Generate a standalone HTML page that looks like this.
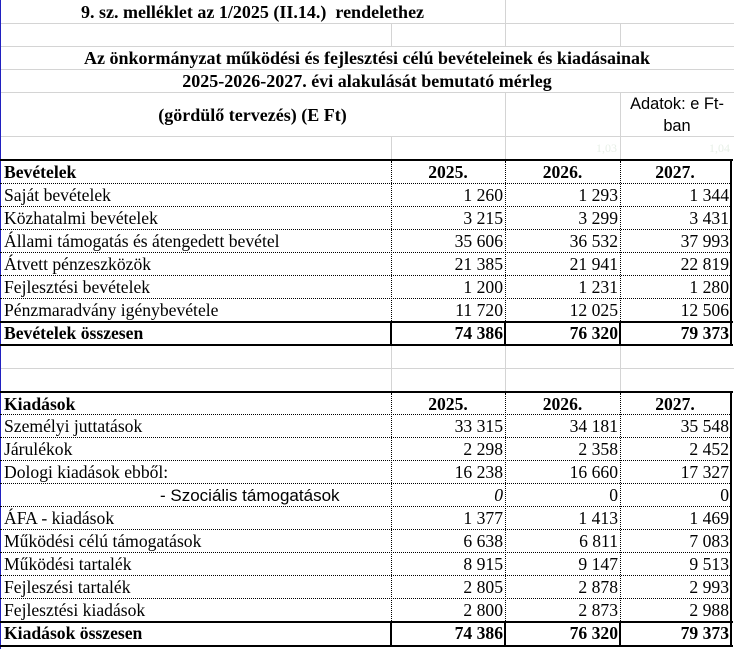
<!DOCTYPE html>
<html><head><meta charset="utf-8"><style>
*{margin:0;padding:0;box-sizing:border-box}
body{width:734px;height:649px;background:#fff;position:relative;overflow:hidden;font-family:"Liberation Serif",serif;font-size:17.6px;color:#000}
.a{position:absolute}
.g{position:absolute;background:#d4d4d4}
.t{position:absolute;white-space:nowrap;line-height:23px;height:23px}
.r{text-align:right}
.c{text-align:center}
.b{font-weight:bold}
.hd{position:absolute;left:0;width:732px;border-top:1px dotted #000}
.vd{position:absolute;width:0;border-left:1px dotted #000}
.th{position:absolute;left:0;width:733px;height:2px;background:#000}
.vs{position:absolute;width:2px;background:#000}
</style></head><body>
<div class="g" style="left:0;top:23px;width:734px;height:1px"></div>
<div class="g" style="left:0;top:46px;width:734px;height:1px"></div>
<div class="g" style="left:0;top:69px;width:734px;height:1px"></div>
<div class="g" style="left:0;top:92px;width:734px;height:1px"></div>
<div class="g" style="left:0;top:136px;width:734px;height:1px"></div>
<div class="g" style="left:505px;top:0;width:1px;height:46px"></div>
<div class="g" style="left:391px;top:23px;width:1px;height:23px"></div>
<div class="g" style="left:620px;top:23px;width:1px;height:23px"></div>
<div class="g" style="left:505px;top:92px;width:1px;height:68px"></div>
<div class="g" style="left:620px;top:92px;width:1px;height:68px"></div>
<div class="g" style="left:391px;top:136px;width:1px;height:24px"></div>
<div class="g" style="left:0;top:368px;width:734px;height:1px"></div>
<div class="g" style="left:391px;top:345px;width:1px;height:47px"></div>
<div class="g" style="left:505px;top:345px;width:1px;height:47px"></div>
<div class="g" style="left:620px;top:345px;width:1px;height:47px"></div>
<div class="a" style="left:0;top:0;width:1px;height:649px;background:#2020c0"></div>

<div class="t b" style="left:0;width:505px;top:1px;text-align:center;font-size:18px">9. sz. melléklet az 1/2025 (II.14.)&nbsp; rendelethez</div>
<div class="t b" style="left:0;width:734px;top:47px;text-align:center;font-size:18px">Az önkormányzat működési és fejlesztési célú bevételeinek és kiadásainak</div>
<div class="t b" style="left:0;width:734px;top:70px;text-align:center;font-size:18px">2025-2026-2027. évi alakulását bemutató mérleg</div>
<div class="t b" style="left:0;width:505px;top:104px;text-align:center;font-size:18px">(gördülő tervezés) (E Ft)</div>
<div class="a" style="left:620px;width:114px;top:93px;text-align:center;font-family:'Liberation Sans',sans-serif;font-size:16.4px;line-height:22px">Adatok: e Ft-<br>ban</div>
<div class="t r" style="left:505px;width:112px;top:137px;color:#e8f0e8;font-size:12px">1,03</div>
<div class="t r" style="left:620px;width:110px;top:137px;color:#e8f0e8;font-size:12px">1,04</div>

<div class="th" style="top:159px"></div>
<div class="hd" style="top:183px"></div><div class="hd" style="top:206px"></div><div class="hd" style="top:229px"></div><div class="hd" style="top:252px"></div><div class="hd" style="top:275px"></div><div class="hd" style="top:298px"></div>
<div class="vd" style="left:391px;top:161px;height:160px"></div>
<div class="vd" style="left:505px;top:161px;height:160px"></div>
<div class="vd" style="left:620px;top:161px;height:160px"></div>
<div class="vs" style="left:730px;top:161px;height:184px"></div>
<div class="th" style="top:321px"></div>
<div class="th" style="top:344px"></div>
<div class="vs" style="left:390px;top:321px;height:24px"></div>
<div class="vs" style="left:504px;top:321px;height:24px"></div>
<div class="vs" style="left:619px;top:321px;height:24px"></div>

<div class="t b" style="left:4px;top:161px">Bevételek</div>
<div class="t b c" style="left:391px;width:114px;top:161px">2025.</div>
<div class="t b c" style="left:505px;width:115px;top:161px">2026.</div>
<div class="t b c" style="left:620px;width:110px;top:161px">2027.</div>

<div class="t" style="left:4px;top:184px">Saját bevételek</div><div class="t r" style="left:391px;width:112px;top:184px">1 260</div><div class="t r" style="left:505px;width:113px;top:184px">1 293</div><div class="t r" style="left:620px;width:109px;top:184px">1 344</div>
<div class="t" style="left:4px;top:207px">Közhatalmi bevételek</div><div class="t r" style="left:391px;width:112px;top:207px">3 215</div><div class="t r" style="left:505px;width:113px;top:207px">3 299</div><div class="t r" style="left:620px;width:109px;top:207px">3 431</div>
<div class="t" style="left:4px;top:230px">Állami támogatás és átengedett bevétel</div><div class="t r" style="left:391px;width:112px;top:230px">35 606</div><div class="t r" style="left:505px;width:113px;top:230px">36 532</div><div class="t r" style="left:620px;width:109px;top:230px">37 993</div>
<div class="t" style="left:4px;top:253px">Átvett pénzeszközök</div><div class="t r" style="left:391px;width:112px;top:253px">21 385</div><div class="t r" style="left:505px;width:113px;top:253px">21 941</div><div class="t r" style="left:620px;width:109px;top:253px">22 819</div>
<div class="t" style="left:4px;top:276px">Fejlesztési bevételek</div><div class="t r" style="left:391px;width:112px;top:276px">1 200</div><div class="t r" style="left:505px;width:113px;top:276px">1 231</div><div class="t r" style="left:620px;width:109px;top:276px">1 280</div>
<div class="t" style="left:4px;top:299px">Pénzmaradvány igénybevétele</div><div class="t r" style="left:391px;width:112px;top:299px">11 720</div><div class="t r" style="left:505px;width:113px;top:299px">12 025</div><div class="t r" style="left:620px;width:109px;top:299px">12 506</div>
<div class="t b" style="left:4px;top:322px">Bevételek összesen</div><div class="t b r" style="left:391px;width:112px;top:322px">74 386</div><div class="t b r" style="left:505px;width:113px;top:322px">76 320</div><div class="t b r" style="left:620px;width:109px;top:322px">79 373</div>

<div class="th" style="top:391px"></div>
<div class="hd" style="top:414px"></div><div class="hd" style="top:437px"></div><div class="hd" style="top:460px"></div><div class="hd" style="top:483px"></div><div class="hd" style="top:506px"></div><div class="hd" style="top:529px"></div><div class="hd" style="top:552px"></div><div class="hd" style="top:575px"></div><div class="hd" style="top:598px"></div>
<div class="vd" style="left:391px;top:393px;height:228px"></div>
<div class="vd" style="left:505px;top:393px;height:228px"></div>
<div class="vd" style="left:620px;top:393px;height:228px"></div>
<div class="vs" style="left:730px;top:393px;height:254px"></div>
<div class="th" style="top:621px"></div>
<div class="th" style="top:645px"></div>
<div class="vs" style="left:390px;top:621px;height:25px"></div>
<div class="vs" style="left:504px;top:621px;height:25px"></div>
<div class="vs" style="left:619px;top:621px;height:25px"></div>

<div class="t b" style="left:4px;top:393px">Kiadások</div>
<div class="t b c" style="left:391px;width:114px;top:393px">2025.</div>
<div class="t b c" style="left:505px;width:115px;top:393px">2026.</div>
<div class="t b c" style="left:620px;width:110px;top:393px">2027.</div>

<div class="t" style="left:4px;top:415px">Személyi juttatások</div><div class="t r" style="left:391px;width:112px;top:415px">33 315</div><div class="t r" style="left:505px;width:113px;top:415px">34 181</div><div class="t r" style="left:620px;width:109px;top:415px">35 548</div>
<div class="t" style="left:4px;top:438px">Járulékok</div><div class="t r" style="left:391px;width:112px;top:438px">2 298</div><div class="t r" style="left:505px;width:113px;top:438px">2 358</div><div class="t r" style="left:620px;width:109px;top:438px">2 452</div>
<div class="t" style="left:4px;top:461px">Dologi kiadások ebből:</div><div class="t r" style="left:391px;width:112px;top:461px">16 238</div><div class="t r" style="left:505px;width:113px;top:461px">16 660</div><div class="t r" style="left:620px;width:109px;top:461px">17 327</div>
<div class="t" style="left:160px;top:484px;font-family:'Liberation Sans',sans-serif;font-size:17px">- Szociális támogatások</div><div class="t r" style="left:391px;width:112px;top:484px;font-style:italic">0</div><div class="t r" style="left:505px;width:113px;top:484px">0</div><div class="t r" style="left:620px;width:109px;top:484px">0</div>
<div class="t" style="left:4px;top:507px">ÁFA - kiadások</div><div class="t r" style="left:391px;width:112px;top:507px">1 377</div><div class="t r" style="left:505px;width:113px;top:507px">1 413</div><div class="t r" style="left:620px;width:109px;top:507px">1 469</div>
<div class="t" style="left:4px;top:530px">Működési célú támogatások</div><div class="t r" style="left:391px;width:112px;top:530px">6 638</div><div class="t r" style="left:505px;width:113px;top:530px">6 811</div><div class="t r" style="left:620px;width:109px;top:530px">7 083</div>
<div class="t" style="left:4px;top:553px">Működési tartalék</div><div class="t r" style="left:391px;width:112px;top:553px">8 915</div><div class="t r" style="left:505px;width:113px;top:553px">9 147</div><div class="t r" style="left:620px;width:109px;top:553px">9 513</div>
<div class="t" style="left:4px;top:576px">Fejleszési tartalék</div><div class="t r" style="left:391px;width:112px;top:576px">2 805</div><div class="t r" style="left:505px;width:113px;top:576px">2 878</div><div class="t r" style="left:620px;width:109px;top:576px">2 993</div>
<div class="t" style="left:4px;top:599px">Fejlesztési kiadások</div><div class="t r" style="left:391px;width:112px;top:599px">2 800</div><div class="t r" style="left:505px;width:113px;top:599px">2 873</div><div class="t r" style="left:620px;width:109px;top:599px">2 988</div>
<div class="t b" style="left:4px;top:622px">Kiadások összesen</div><div class="t b r" style="left:391px;width:112px;top:622px">74 386</div><div class="t b r" style="left:505px;width:113px;top:622px">76 320</div><div class="t b r" style="left:620px;width:109px;top:622px">79 373</div>
</body></html>
